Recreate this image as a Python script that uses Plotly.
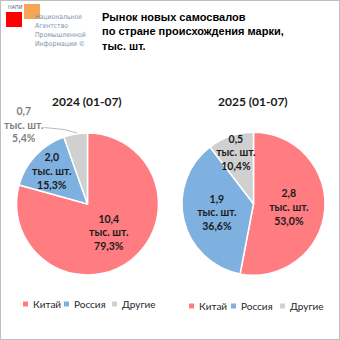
import plotly.graph_objects as go

W = H = 340

categories = ["Китай", "Россия", "Другие"]
periods = ["2024 (01-07)", "2025 (01-07)"]
units_2024 = [10.4, 2.0, 0.7]
pct_2024 = [79.3, 15.3, 5.4]
units_2025 = [2.8, 1.9, 0.5]
pct_2025 = [53.0, 36.6, 10.4]

colors = ["#FF7C80", "#7EB0E0", "#D0D0D0"]
title_text = "Рынок новых самосвалов<br>по стране происхождения марки,<br>тыс. шт."


def fmt(v):
    return f"{v:.1f}".replace(".", ",")


def label(u, p):
    return f"{fmt(u)}<br>тыс. шт.<br>{fmt(p)}%"


def px(x):
    return x / W


def py(y):
    return 1 - y / H


fig = go.Figure()

# 2024 pie: the small grey slice is labelled outside with a leader line
texts_2024 = [label(u, p) for u, p in zip(units_2024, pct_2024)]
texts_2024_inside = texts_2024[:2] + [""]
fig.add_trace(go.Pie(
    labels=categories, values=pct_2024, text=texts_2024_inside,
    textinfo="text", textposition="inside", insidetextorientation="horizontal",
    sort=False, direction="clockwise", rotation=0,
    marker=dict(colors=colors, line=dict(color="white", width=1.5)),
    textfont=dict(family="Lato, sans-serif", size=10.5, color="#1a1a1a", weight="bold"),
    domain=dict(x=[px(16.5), px(158.5)], y=[py(275), py(133)]),
    showlegend=False, hoverinfo="label+value",
))

texts_2025 = [label(u, p) for u, p in zip(units_2025, pct_2025)]
fig.add_trace(go.Pie(
    labels=categories, values=pct_2025, text=texts_2025,
    textinfo="text", textposition="inside", insidetextorientation="horizontal",
    sort=False, direction="clockwise", rotation=0,
    marker=dict(colors=colors, line=dict(color="white", width=1.5)),
    textfont=dict(family="Lato, sans-serif", size=10.5, color="#1a1a1a", weight="bold"),
    domain=dict(x=[px(182), px(325)], y=[py(275.5), py(132)]),
    showlegend=False, hoverinfo="label+value",
))

annotations = []
shapes = []


def ann(x, y, text, font, xanchor="center", yanchor="middle", align="center"):
    annotations.append(dict(
        x=px(x), y=py(y), xref="paper", yref="paper", showarrow=False,
        xanchor=xanchor, yanchor=yanchor, align=align, text=text, font=font,
    ))


# outside label for the grey 2024 slice
ann(24, 124, texts_2024[2],
    dict(family="Lato, sans-serif", size=10.5, color="#7F7F7F", weight="bold"))
shapes.append(dict(
    type="path", xref="paper", yref="paper",
    path=f"M {px(44)} {py(127.5)} L {px(64)} {py(129.5)} L {px(77)} {py(133)}",
    line=dict(color="#A6A6A6", width=0.8),
))

# chart title
ann(100, 9, title_text,
    dict(family="Liberation Sans, Arial, sans-serif", size=11, color="#000000", weight="bold"),
    xanchor="left", yanchor="top", align="left")

# sub-titles
for cx, t in zip([87, 253], periods):
    ann(cx, 101, t, dict(family="Lato, sans-serif", size=12, color="#1a1a1a", weight="bold"))

# legends (one under each pie)
legend_layouts = [(304, [23, 64, 112]), (306, [189, 231, 280])]
for ly, xs in legend_layouts:
    for x0, cat, col in zip(xs, categories, colors):
        shapes.append(dict(
            type="rect", xref="paper", yref="paper",
            x0=px(x0), x1=px(x0 + 5), y0=py(ly + 2.5), y1=py(ly - 2.5),
            fillcolor=col, line=dict(width=0),
        ))
        ann(x0 + 8, ly, cat, dict(family="Lato, sans-serif", size=10, color="#262626"),
            xanchor="left")

# logo
shapes.append(dict(type="rect", xref="paper", yref="paper",
                   x0=px(6), x1=px(22), y0=py(27), y1=py(12),
                   fillcolor="#FF0000", line=dict(width=0)))
shapes.append(dict(type="rect", xref="paper", yref="paper",
                   x0=px(24), x1=px(40), y0=py(19), y1=py(4),
                   fillcolor="#F59B45", opacity=0.9, line=dict(width=0)))
logo_font = "Liberation Sans Narrow, DejaVu Sans Condensed, sans-serif"
ann(6, 7, "НАПИ", dict(family=logo_font, size=5.5, color="#4F6A8F"), xanchor="left")
ann(33, 11.5, "Национальное<br>Агентство<br>Промышленной<br>Информации ©",
    dict(family=logo_font, size=6.8, color="#7F90AC"),
    xanchor="left", yanchor="top", align="left")

# outer border
shapes.append(dict(type="rect", xref="paper", yref="paper", x0=0, x1=1, y0=0, y1=1,
                   line=dict(color="#BFBFBF", width=2)))

fig.update_layout(
    width=W, height=H, margin=dict(l=0, r=0, t=0, b=0),
    paper_bgcolor="white", plot_bgcolor="white",
    annotations=annotations, shapes=shapes,
    uniformtext=dict(minsize=10.5, mode="show"),
    showlegend=False,
)

fig.write_html("out.html")
